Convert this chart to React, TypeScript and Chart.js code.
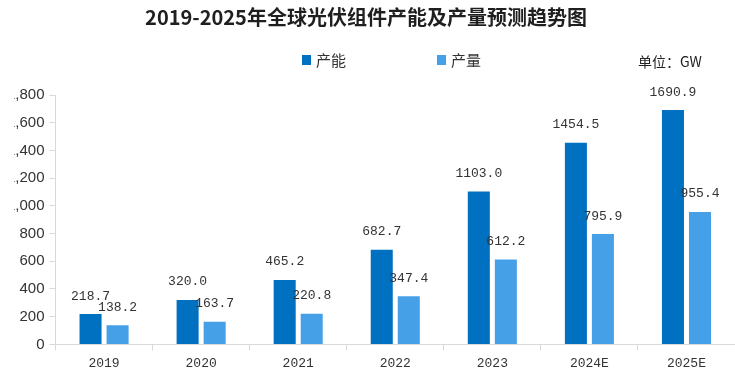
import React, { useEffect, useRef } from "react";
import { Chart, registerables } from "chart.js";

Chart.register(...registerables);

const categories = ["2019", "2020", "2021", "2022", "2023", "2024E", "2025E"];
const capacity = [218.7, 320.0, 465.2, 682.7, 1103.0, 1454.5, 1690.9];
const production = [138.2, 163.7, 220.8, 347.4, 612.2, 795.9, 955.4];
const seriesNames = ["产能", "产量"];
const seriesColors = ["#0070C0", "#46A0E8"];
const titleText = "2019-2025年全球光伏组件产能及产量预测趋势图";
const unitText = "单位：GW";
const yMax = 1800;
const yStep = 200;

const CJK = '"Noto Sans CJK SC", "Noto Sans", sans-serif';
const MONO = '"Liberation Mono", "DejaVu Sans Mono", monospace';

const decorPlugin = {
  id: "decor",
  afterDraw(chart: any) {
    const ctx = chart.ctx;
    ctx.save();
    // title
    ctx.fillStyle = "#1f1f1f";
    ctx.font = `bold 20px ${CJK}`;
    ctx.textAlign = "center";
    ctx.textBaseline = "middle";
    ctx.fillText(titleText, 366, 17);

    // legend
    ctx.font = `15px ${CJK}`;
    ctx.textAlign = "left";
    chart.data.datasets.forEach((ds: any, i: number) => {
      const x = 302 + i * 135;
      const y = 60;
      ctx.fillStyle = ds.backgroundColor;
      ctx.fillRect(x, y - 5, 9, 10);
      ctx.fillStyle = "#333";
      ctx.fillText(ds.label, x + 14, y);
    });

    // unit
    ctx.font = `14px ${CJK}`;
    ctx.fillStyle = "#222";
    ctx.fillText(unitText, 638, 62);

    // data labels
    ctx.font = `13px ${MONO}`;
    ctx.textAlign = "center";
    ctx.textBaseline = "middle";
    ctx.fillStyle = "#333";
    chart.data.datasets.forEach((ds: any, i: number) => {
      const meta = chart.getDatasetMeta(i);
      meta.data.forEach((bar: any, j: number) => {
        const v = ds.data[j];
        ctx.fillText(v.toFixed(1), bar.x, bar.y - 18);
      });
    });
    ctx.restore();
  },
};

export default function App() {
  const ref = useRef<HTMLCanvasElement | null>(null);
  useEffect(() => {
    if (!ref.current) return;
    const chart = new Chart(ref.current, {
      type: "bar",
      data: {
        labels: categories,
        datasets: [
          {
            label: seriesNames[0],
            data: capacity,
            backgroundColor: seriesColors[0],
            barPercentage: 0.815,
            categoryPercentage: 0.557,
          },
          {
            label: seriesNames[1],
            data: production,
            backgroundColor: seriesColors[1],
            barPercentage: 0.815,
            categoryPercentage: 0.557,
          },
        ],
      },
      options: {
        animation: false,
        responsive: false,
        layout: { padding: { top: 95, left: 2, right: 0, bottom: 0 } },
        plugins: {
          legend: { display: false },
          title: { display: false },
          tooltip: { enabled: false },
        },
        scales: {
          x: {
            offset: true,
            grid: {
              offset: true,
              drawOnChartArea: false,
              tickLength: 6,
              color: "#d9d9d9",
            },
            border: { color: "#d9d9d9" },
            ticks: {
              font: { family: MONO, size: 13 },
              color: "#333",
              padding: 5,
            },
          },
          y: {
            min: 0,
            max: yMax,
            grid: {
              drawOnChartArea: false,
              tickLength: 6,
              color: "#d9d9d9",
            },
            border: { color: "#d9d9d9" },
            ticks: {
              stepSize: yStep,
              font: { family: '"Liberation Sans", Arial, sans-serif', size: 15 },
              color: "#333",
              padding: 5,
            },
          },
        },
      },
      plugins: [decorPlugin],
    });
    return () => chart.destroy();
  }, []);

  return (
    <div
      style={{
        position: "absolute",
        left: 14,
        top: 0,
        width: 721,
        height: 376,
        overflow: "hidden",
        background: "#fff",
      }}
    >
      <div style={{ position: "absolute", left: -14, top: 0, width: 735, height: 376 }}>
        <canvas ref={ref} width={735} height={376} style={{ width: 735, height: 376, display: "block" }} />
      </div>
    </div>
  );
}
